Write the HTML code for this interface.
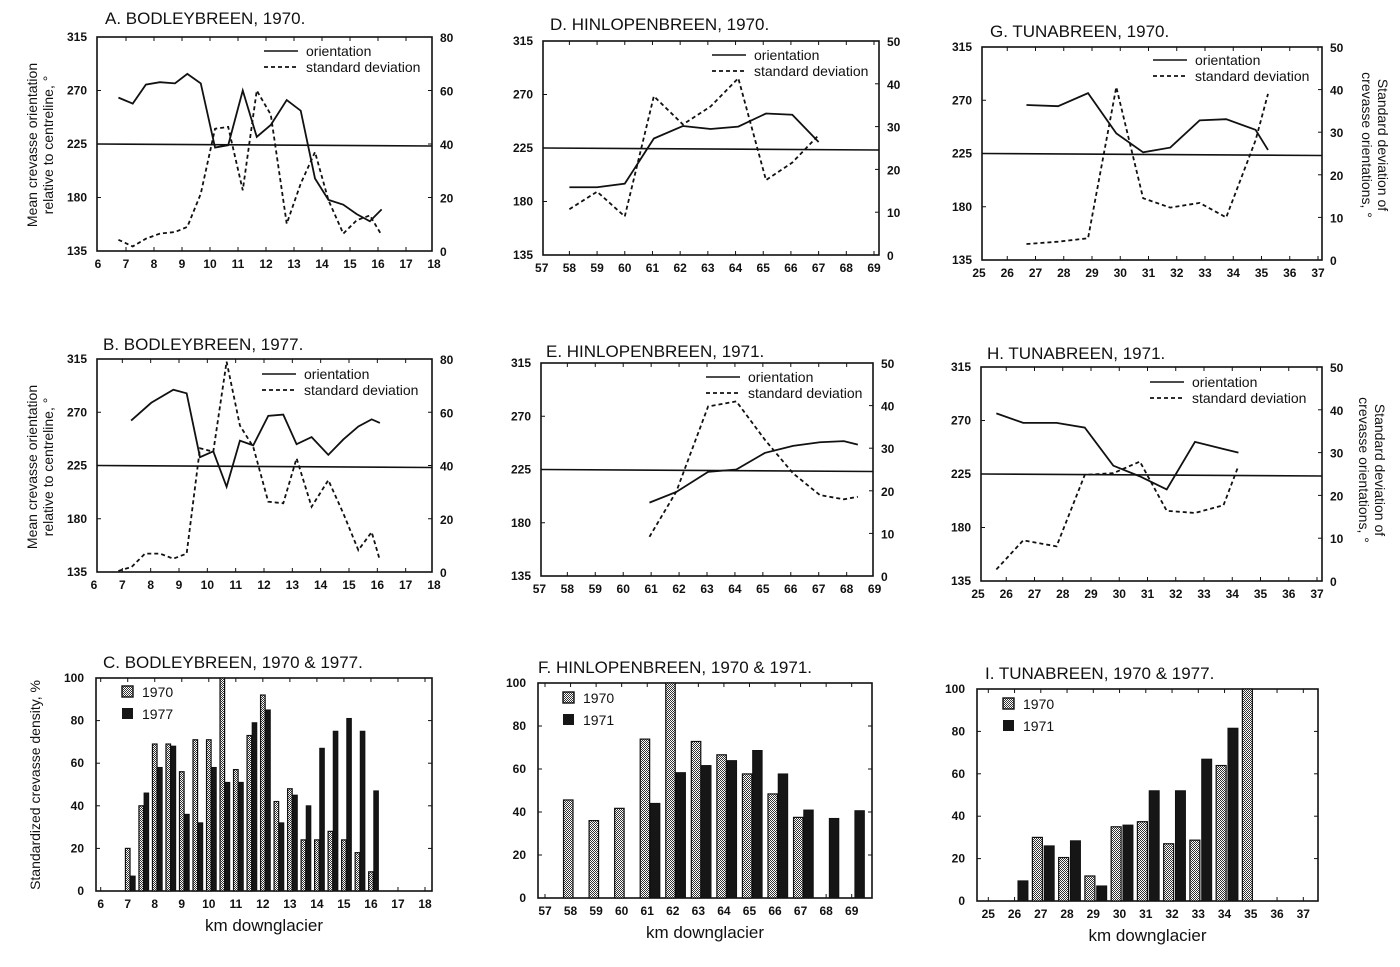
<!DOCTYPE html>
<html><head><meta charset="utf-8"><style>
body{margin:0;background:#fff}
svg text{font-family:"Liberation Sans",sans-serif;fill:#111}
.tk{font-size:12px;font-weight:bold}
.tt{font-size:17px}
.lg{font-size:14px}
</style></head><body>
<svg id="fig" width="1400" height="962" viewBox="0 0 1400 962" xmlns="http://www.w3.org/2000/svg">
<defs><pattern id="stip" width="2" height="2" patternUnits="userSpaceOnUse"><rect width="2" height="2" fill="#fff"/><rect width="1" height="1" fill="#333"/><rect x="1" y="1" width="1" height="1" fill="#333"/></pattern></defs>
<g id="root"></g>
</svg>
<script>
// Panel A data
const aKm=[6.73,7.24,7.71,8.21,8.75,9.19,9.67,10.18,10.65,11.17,11.67,12.17,12.74,13.24,13.75,14.23,14.76,15.24,15.71,16.13];
const aOri=[264,259,275,277,276,284,276,222,224,270,231,241,262,253,196,178,174,166,160,170];
const aSd=[4.2,1.7,4.6,6.5,7.1,9,21.4,45.7,46.4,22.7,60,51,10.2,25.2,37,19,6.5,11.5,13.3,5.9];
// Panel B data
const bKm=[7.31,8.02,8.8,9.27,9.74,10.21,10.68,11.15,11.62,12.15,12.68,13.15,13.68,14.27,14.8,15.33,15.8,16.09];
const bOri=[263,278,289,286,232,237,207,246,242,267,268,243,249,234,247,258,264,261];
const bSdKm=[6.86,7.33,7.8,8.33,8.8,9.27,9.74,10.21,10.68,11.15,11.62,12.15,12.68,13.15,13.68,14.27,14.8,15.33,15.8,16.09];
const bSd=[0.4,1.9,6.9,6.9,5,6.9,46.5,45.2,79,55,47,26.4,25.8,42.7,24.5,34.5,22,8.2,15,4.4];
// Panel D data
const dKm=[58,59,60,61.05,62.1,63.1,64.1,65.1,66.05,67];
const dOri=[192,192,195,233,243.5,241,243,254,253,230];
const dSd=[10.7,14.8,9,37.1,30.5,34.7,41.3,17.5,21.6,28];
// Panel E data
const eKm=[60.94,61.9,63.04,64.05,65.07,66.08,67.04,67.9,68.4];
const eOri=[197,206,223,225,239,245,248,249,246];
const eSd=[9.2,19.8,39.8,41,32,24.1,19,18,18.6];
// Panel G data
const gKm=[26.68,27.8,28.86,29.86,30.81,31.77,32.81,33.75,34.79,35.23];
const gOri=[266,265,276,242,226,230,253,254,245,228];
const gSd=[3.75,4.3,5.1,40.6,14.5,12.3,13.4,10,28.1,39];
// Panel H data
const hKm=[25.65,26.6,27.78,28.78,29.79,30.73,31.68,32.68,33.69,34.22];
const hOri=[276,268,268,264,232,223,212,252,246,243];
const hSd=[2.7,9.5,8.1,24.8,25.2,27.9,16.4,15.9,17.7,26.9];
// Panel C bars
const cKm=[7,7.5,8,8.5,9,9.5,10,10.5,11,11.5,12,12.5,13,13.5,14,14.5,15,15.5,16];
const c1970=[20,40,69,69,56,71,71,100,57,73,92,42,48,24,24,28,24,18,9];
const c1977=[7,46,58,68,36,32,58,51,51,79,85,32,45,40,67,75,81,75,47];
// Panel F bars
const fKm=[58,59,60,61,62,63,64,65,66,67,68,69];
const f1970=[45.6,36,41.7,73.9,100,72.8,66.6,57.7,48.4,37.5,null,null];
const f1971=[null,null,null,44,58.3,61.6,63.9,68.6,57.7,40.9,37,40.6];
// Panel I bars
const iKm=[26,27,28,29,30,31,32,33,34,35];
const i1970=[null,30,20.5,11.8,35,37.4,27,28.7,63.9,100];
const i1971=[9.5,26,28.4,7.1,35.8,52,52,66.9,81.5,null];
// Tick labels
const oriTicks=[135,180,225,270,315];
const sd80Ticks=[0,20,40,60,80];
const sd50Ticks=[0,10,20,30,40,50];
const pctTicks=[0,20,40,60,80,100];

const NS="http://www.w3.org/2000/svg";
const root=document.getElementById('root');
function mk(tag,attrs,parent){const e=document.createElementNS(NS,tag);for(const k in attrs)e.setAttribute(k,attrs[k]);(parent||root).appendChild(e);return e;}
function txt(s,x,y,cls,anchor,parent){const t=mk('text',{x:x,y:y,class:cls,'text-anchor':anchor||'start'},parent);t.textContent=s;return t;}
function range(a,b){const r=[];for(let i=a;i<=b;i++)r.push(i);return r;}

function frame(g,c,xt){
  const f=mk('rect',{x:c.bx0,y:c.by0,width:c.bx1-c.bx0,height:c.by1-c.by0,fill:'none',stroke:'#111','stroke-width':1.6},g);
  
  
  xt.forEach(v=>{const x=c.sx(v);
    if(x>c.bx0+2&&x<c.bx1-2){mk('line',{x1:x,x2:x,y1:c.by1,y2:c.by1-4,stroke:'#111'},g);mk('line',{x1:x,x2:x,y1:c.by0,y2:c.by0+4,stroke:'#111'},g);}
    const t=txt(String(v),x,c.by1+17,'tk','middle',g);
    
    
  });
}
function lineChart(name,c,xs,ori,sdx,sd,sdTicks,sdMax){
  const g=mk('g',{});
  
  
  c.sx=v=>c.px0+(v-c.xmin)/(c.xmax-c.xmin)*(c.px1-c.px0);
  const sy=v=>c.by1-(v-135)/180*(c.by1-c.by0);
  const sy2=v=>c.by1-v/sdMax*(c.by1-c.by0);
  frame(g,c,range(c.xmin,c.xmax));
  oriTicks.forEach(v=>{const y=sy(v);mk('line',{x1:c.bx0,x2:c.bx0+4,y1:y,y2:y,stroke:'#111'},g);
    const t=txt(String(v),c.bx0-10,y+4,'tk','end',g);});
  sdTicks.forEach(v=>{const y=sy2(v);mk('line',{x1:c.bx1,x2:c.bx1-4,y1:y,y2:y,stroke:'#111'},g);
    const t=txt(String(v),c.bx1+8,y+5,'tk','start',g);});
  const ref=mk('line',{x1:c.bx0,x2:c.bx1,y1:sy(225),y2:sy(225)+2,stroke:'#111','stroke-width':1.6},g);
  
  
  const p1=mk('polyline',{points:xs.map((x,i)=>c.sx(x)+','+sy(ori[i])).join(' '),fill:'none',stroke:'#111','stroke-width':1.8},g);
  
  
  const p2=mk('polyline',{points:sdx.map((x,i)=>c.sx(x)+','+sy2(sd[i])).join(' '),fill:'none',stroke:'#111','stroke-width':1.8,'stroke-dasharray':'4 3'},g);
  
  
  const lx=c.lx,ly=c.ly;
  mk('line',{x1:lx,x2:lx+34,y1:ly,y2:ly,stroke:'#111','stroke-width':1.6},g);
  mk('line',{x1:lx,x2:lx+34,y1:ly+16,y2:ly+16,stroke:'#111','stroke-width':1.8,'stroke-dasharray':'4 3'},g);
  const l1=txt('orientation',lx+42,ly+5,'lg','start',g);
  const l2=txt('standard deviation',lx+42,ly+21,'lg','start',g);
  const tt=txt(c.title,c.tx,c.ty,'tt','start',g);
}
function barChart(name,c,cats,v1,v2,off1,off2,bw){
  const g=mk('g',{});
  
  
  c.sx=v=>c.px0+(v-c.xmin)/(c.xmax-c.xmin)*(c.px1-c.px0);
  const sy=v=>c.by1-v/100*(c.by1-c.by0);
  const kw=(c.px1-c.px0)/(c.xmax-c.xmin);
  frame(g,c,range(c.xmin,c.xmax));
  pctTicks.forEach(v=>{const y=sy(v);mk('line',{x1:c.bx0,x2:c.bx0+4,y1:y,y2:y,stroke:'#111'},g);mk('line',{x1:c.bx1,x2:c.bx1-4,y1:y,y2:y,stroke:'#111'},g);
    const t=txt(String(v),c.bx0-12,y+4,'tk','end',g);});
  cats.forEach((k,i)=>{
    if(v1[i]!=null){const x=c.sx(k+off1)-bw*kw/2;const b=mk('rect',{x:x,y:sy(v1[i]),width:bw*kw,height:sy(0)-sy(v1[i]),fill:'url(#stip)',stroke:'#111','stroke-width':1.2},g);
      }
    if(v2[i]!=null){const x=c.sx(k+off2)-bw*kw/2;const b=mk('rect',{x:x,y:sy(v2[i]),width:bw*kw,height:sy(0)-sy(v2[i]),fill:'#161616',stroke:'#111','stroke-width':1},g);
      }
  });
  mk('rect',{x:c.lx,y:c.ly-6,width:11,height:11,fill:'url(#stip)',stroke:'#111','stroke-width':1.4},g);
  mk('rect',{x:c.lx,y:c.ly+16,width:11,height:11,fill:'#161616'},g);
  const a=txt(c.l1,c.lx+20,c.ly+5,'lg','start',g);
  const b2=txt(c.l2,c.lx+20,c.ly+27,'lg','start',g);
  const tt=txt(c.title,c.tx,c.ty,'tt','start',g);
  const xl=txt('km downglacier',(c.bx0+c.bx1)/2,c.by1+40,'tt','middle',g);
}
lineChart('panel-a',{bx0:97,bx1:432,by0:37,by1:251,xmin:6,xmax:18,px0:98,px1:434,lx:264,ly:51,title:'A.  BODLEYBREEN, 1970.',tx:105,ty:24},aKm,aOri,aKm,aSd,sd80Ticks,80);
lineChart('panel-b',{bx0:97,bx1:432,by0:359,by1:572,xmin:6,xmax:18,px0:94,px1:434,lx:262,ly:374,title:'B.  BODLEYBREEN, 1977.',tx:103,ty:350},bKm,bOri,bSdKm,bSd,sd80Ticks,80);
lineChart('panel-d',{bx0:543,bx1:879,by0:41,by1:255,xmin:57,xmax:69,px0:541.7,px1:874,lx:712,ly:55,title:'D. HINLOPENBREEN, 1970.',tx:550,ty:30},dKm,dOri,dKm,dSd,sd50Ticks,50);
lineChart('panel-e',{bx0:541,bx1:873,by0:363,by1:576,xmin:57,xmax:69,px0:539.4,px1:874.6,lx:706,ly:377,title:'E. HINLOPENBREEN, 1971.',tx:546,ty:357},eKm,eOri,eKm,eSd,sd50Ticks,50);
lineChart('panel-g',{bx0:982,bx1:1322,by0:47,by1:260,xmin:25,xmax:37,px0:979,px1:1318,lx:1153,ly:60,title:'G. TUNABREEN, 1970.',tx:990,ty:37},gKm,gOri,gKm,gSd,sd50Ticks,50);
lineChart('panel-h',{bx0:981,bx1:1322,by0:367,by1:581,xmin:25,xmax:37,px0:978,px1:1317,lx:1150,ly:382,title:'H.  TUNABREEN, 1971.',tx:987,ty:359},hKm,hOri,hKm,hSd,sd50Ticks,50);
barChart('panel-c',{bx0:96,bx1:432,by0:678,by1:891,xmin:6,xmax:18,px0:100.7,px1:425,lx:122,ly:692,l1:'1970',l2:'1977',title:'C.  BODLEYBREEN, 1970 & 1977.',tx:103,ty:668},cKm,c1970,c1977,0,0.19,0.17);
barChart('panel-f',{bx0:538,bx1:872,by0:683,by1:898,xmin:57,xmax:69,px0:545,px1:851.7,lx:563,ly:698,l1:'1970',l2:'1971',title:'F. HINLOPENBREEN, 1970 & 1971.',tx:538,ty:673},fKm,f1970,f1971,-0.09,0.31,0.37);
barChart('panel-i',{bx0:977,bx1:1318,by0:689,by1:901,xmin:25,xmax:37,px0:988.3,px1:1303.3,lx:1003,ly:704,l1:'1970',l2:'1971',title:'I. TUNABREEN, 1970 & 1977.',tx:985,ty:679},iKm,i1970,i1971,-0.13,0.32,0.38);

function rot(lines,x,y,ang,name){const t=mk('text',{transform:'translate('+x+','+y+') rotate('+ang+')','text-anchor':'middle',class:'lg'});
  
  lines.forEach((s,i)=>{const ts=mk('tspan',{x:0,dy:i?16:0},t);ts.textContent=s;});}
rot(['Mean crevasse orientation','relative to centreline, °'],37,145,-90,'y-axis-title-a');
rot(['Mean crevasse orientation','relative to centreline, °'],37,467,-90,'y-axis-title-b');
rot(['Standardized crevasse density, %'],40,785,-90,'y-axis-title-c');
rot(['Standard deviation of','crevasse orientations, °'],1378,145,90,'right-axis-title-g');
rot(['Standard deviation of','crevasse orientations, °'],1375,470,90,'right-axis-title-h');
</script>
</body></html>
